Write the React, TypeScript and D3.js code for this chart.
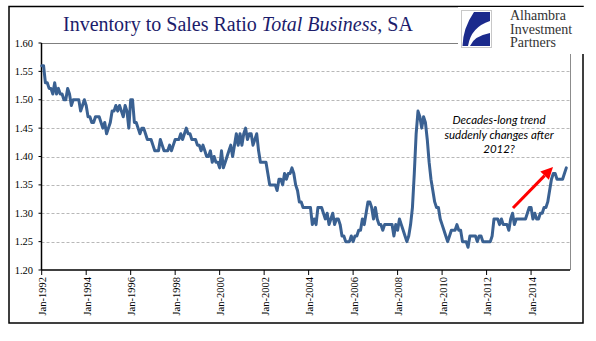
import React from "react";
import * as d3 from "d3";

// Monthly inventory-to-sales ratio, total business, SA — Jan 1992 onward
const ratio1992to2003: number[] = [
  1.56, 1.56, 1.53, 1.53, 1.52, 1.52, 1.51, 1.53, 1.51, 1.52, 1.51, 1.51,
  1.50, 1.50, 1.52, 1.51, 1.49, 1.50, 1.50, 1.50, 1.50, 1.48, 1.49, 1.50,
  1.49, 1.47, 1.47, 1.46, 1.46, 1.47, 1.47, 1.47, 1.46, 1.45, 1.46, 1.44,
  1.45, 1.46, 1.48, 1.48, 1.49, 1.48, 1.49, 1.48, 1.47, 1.49, 1.48, 1.45,
  1.50, 1.50, 1.46, 1.46, 1.45, 1.44, 1.45, 1.45, 1.44, 1.43, 1.43, 1.43,
  1.42, 1.41, 1.41, 1.41, 1.43, 1.42, 1.41, 1.41, 1.41, 1.42, 1.41, 1.42,
  1.43, 1.43, 1.43, 1.44, 1.43, 1.44, 1.45, 1.44, 1.44, 1.43, 1.43, 1.43,
  1.42, 1.42, 1.41, 1.42, 1.41, 1.40, 1.40, 1.41, 1.39, 1.40, 1.39, 1.39,
  1.38, 1.41, 1.38, 1.39, 1.40, 1.41, 1.42, 1.40, 1.42, 1.44, 1.42, 1.44,
  1.42, 1.44, 1.45, 1.43, 1.44, 1.44, 1.42, 1.43, 1.44, 1.41, 1.39, 1.39,
  1.39, 1.39, 1.37, 1.35, 1.35, 1.35, 1.35, 1.34, 1.36, 1.36, 1.35, 1.37,
  1.36, 1.37, 1.37, 1.38, 1.37, 1.35, 1.34, 1.32, 1.32, 1.31, 1.31, 1.31,
];
const ratio2004to2015: number[] = [
  1.31, 1.31, 1.28, 1.29, 1.28, 1.31, 1.31, 1.31, 1.30, 1.29, 1.30, 1.28,
  1.29, 1.30, 1.28, 1.29, 1.29, 1.28, 1.26, 1.26, 1.25, 1.25, 1.25, 1.26,
  1.25, 1.26, 1.26, 1.27, 1.27, 1.29, 1.28, 1.30, 1.32, 1.32, 1.31, 1.29,
  1.31, 1.29, 1.28, 1.28, 1.27, 1.28, 1.28, 1.28, 1.28, 1.28, 1.26, 1.28,
  1.27, 1.29, 1.28, 1.27, 1.26, 1.25, 1.26, 1.28, 1.31, 1.37, 1.44, 1.48,
  1.47, 1.45, 1.47, 1.46, 1.43, 1.39, 1.36, 1.34, 1.32, 1.31, 1.31, 1.29,
  1.28, 1.27, 1.26, 1.25, 1.26, 1.27, 1.27, 1.27, 1.28, 1.27, 1.27, 1.25,
  1.25, 1.25, 1.24, 1.26, 1.26, 1.26, 1.26, 1.25, 1.26, 1.26, 1.25, 1.25,
  1.25, 1.25, 1.25, 1.26, 1.29, 1.29, 1.29, 1.28, 1.29, 1.28, 1.28, 1.28,
  1.27, 1.29, 1.30, 1.28, 1.29, 1.29, 1.29, 1.29, 1.29, 1.29, 1.30, 1.31,
  1.31, 1.29, 1.30, 1.29, 1.29, 1.30, 1.30, 1.31, 1.31, 1.32, 1.34, 1.36,
  1.37, 1.37, 1.36, 1.36, 1.36, 1.36, 1.37, 1.38,
];
const ratio: number[] = [...ratio1992to2003, ...ratio2004to2015];

const tickYears: number[] = [1992, 1994, 1996, 1998, 2000, 2002, 2004, 2006, 2008, 2010, 2012, 2014];
const yTicks: number[] = [1.2, 1.25, 1.3, 1.35, 1.4, 1.45, 1.5, 1.55, 1.6];
const annotationLines: string[] = ["Decades-long trend", "suddenly changes after", "2012?"];
const logoLines: string[] = ["Alhambra", "Investment", "Partners"];

export default function App() {
  const left = 41.5, right = 570, top = 43, bottom = 270;
  const x = d3.scaleLinear().domain([0, 285]).range([left + 0.2, right]);
  const y = d3.scaleLinear().domain([1.2, 1.6]).range([bottom, top]);

  const line = d3
    .line<number>()
    .x((_, i) => x(i))
    .y((d) => y(d));

  const serif = "'Liberation Serif', 'Times New Roman', serif";
  const arrowFrom = { x: 513, y: 208 };
  const arrowTo = { x: 553, y: 167 };
  const ang = Math.atan2(arrowTo.y - arrowFrom.y, arrowTo.x - arrowFrom.x);
  const headLen = 12, headW = 6;
  const bx = arrowTo.x - headLen * Math.cos(ang);
  const by = arrowTo.y - headLen * Math.sin(ang);
  const head = [
    [arrowTo.x, arrowTo.y],
    [bx + headW * Math.sin(ang), by - headW * Math.cos(ang)],
    [bx - headW * Math.sin(ang), by + headW * Math.cos(ang)],
  ];

  return (
    <svg
      width={596}
      height={341}
      style={{ position: "absolute", left: 0, top: 0, background: "#fff" }}
    >
      <rect x={0} y={0} width={596} height={341} fill="#fff" />
      {/* outer frame */}
      <rect x={9} y={6.5} width={574} height={316.5} fill="none" stroke="#000" strokeWidth={1.5} />

      {/* gridlines */}
      {yTicks
        .filter((t) => t > 1.2 && t < 1.6)
        .map((t) => (
          <line
            key={t}
            x1={left}
            x2={right}
            y1={Math.round(y(t)) + 0.5}
            y2={Math.round(y(t)) + 0.5}
            stroke="#b8b8b8"
            strokeWidth={1}
            strokeDasharray="3,2"
          />
        ))}
      {/* plot top + right border */}
      <line x1={left} x2={right} y1={top + 0.5} y2={top + 0.5} stroke="#7f7f7f" strokeWidth={1} />
      <line x1={right + 0.5} x2={right + 0.5} y1={top} y2={bottom} stroke="#8c8c8c" strokeWidth={1} />

      {/* y axis */}
      <line x1={left} x2={left} y1={top} y2={bottom} stroke="#000" strokeWidth={1.5} />
      {yTicks.map((t) => (
        <g key={t}>
          <line x1={left - 3} x2={left} y1={y(t)} y2={y(t)} stroke="#000" strokeWidth={1} />
          <text
            x={33}
            y={y(t)}
            textAnchor="end"
            dominantBaseline="central"
            fontFamily={serif}
            fontSize={10.5}
            fill="#000"
          >
            {t.toFixed(2)}
          </text>
        </g>
      ))}

      {/* x axis */}
      <line x1={left} x2={right} y1={bottom} y2={bottom} stroke="#000" strokeWidth={1.5} />
      {tickYears.map((yr) => {
        const xi = x((yr - 1992) * 12);
        return (
          <g key={yr}>
            <line x1={xi} x2={xi} y1={bottom} y2={bottom + 5} stroke="#000" strokeWidth={1} />
            <text
              transform={`translate(${xi + 1},${bottom + 7}) rotate(-90)`}
              textAnchor="end"
              dominantBaseline="central"
              fontFamily={serif}
              fontSize={10.5}
              fill="#000"
            >
              {`Jan-${yr}`}
            </text>
          </g>
        );
      })}

      {/* data line */}
      <path
        d={line(ratio) || ""}
        fill="none"
        stroke="#3a6192"
        strokeWidth={3}
        strokeLinejoin="round"
        strokeLinecap="round"
      />

      {/* annotation */}
      {annotationLines.map((s, i) => (
        <text
          key={s}
          x={499}
          y={124 + i * 14.7}
          textAnchor="middle"
          fontFamily="Lato, 'Open Sans', sans-serif"
          fontStyle="italic"
          fontSize={11.5}
          fill="#000"
        >
          {s}
        </text>
      ))}
      <line
        x1={arrowFrom.x}
        y1={arrowFrom.y}
        x2={bx}
        y2={by}
        stroke="#f00"
        strokeWidth={3}
      />
      <polygon points={head.map((p) => p.join(",")).join(" ")} fill="#f00" />

      {/* title */}
      <text x={63} y={31} fontFamily={serif} fontSize={20} fill="#1c1c6b">
        Inventory to Sales Ratio <tspan fontStyle="italic">Total Business</tspan>, SA
      </text>

      {/* logo */}
      <rect x={458} y={7} width={138} height={47} fill="#fff" />
      <rect x={461.5} y={10.5} width={30} height={37} fill="#fff" stroke="#c8c8c8" strokeWidth={1} />
      <path
        d="M474,12 L490,12 L490,21 Q471,27 468,46 L462.5,46 Q463,28 474,12 Z"
        fill="#1b2a8c"
      />
      <path d="M470,46 Q474,36 490,33 L490,46 Z" fill="#1b2a8c" />
      {logoLines.map((s, i) => (
        <text
          key={s}
          x={510}
          y={20 + i * 13.5}
          fontFamily={serif}
          fontSize={14}
          fill="#333"
        >
          {s}
        </text>
      ))}
    </svg>
  );
}
